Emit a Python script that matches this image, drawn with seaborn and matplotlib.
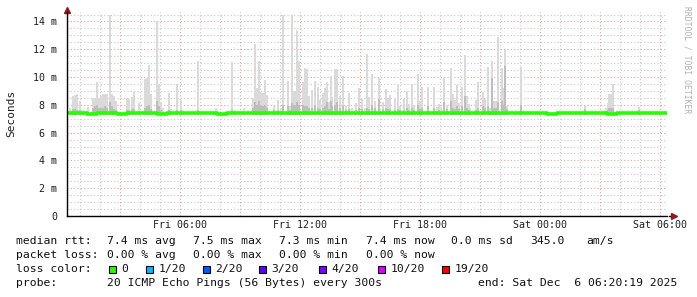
import numpy as np
import pandas as pd
import matplotlib
matplotlib.use("Agg")
import matplotlib.pyplot as plt
from matplotlib.patches import Rectangle
import seaborn as sns

# ---------------- data ----------------
# time axis in hours since Fri 00:00; chart spans Fri 00:20 -> Sat 06:20
t_start, t_end = 1/3, 30 + 1/3

# median rtt (ms), one value per 30 minutes starting Fri 00:20
median_ms = [7.38, 7.40, 7.37, 7.41, 7.39, 7.36, 7.40, 7.42, 7.38, 7.37,
             7.40, 7.39, 7.41, 7.38, 7.40, 7.37, 7.39, 7.42, 7.40, 7.38,
             7.41, 7.39, 7.43, 7.40, 7.42, 7.44, 7.41, 7.43, 7.40, 7.42,
             7.44, 7.43, 7.41, 7.42, 7.40, 7.43, 7.41, 7.40, 7.42, 7.39,
             7.41, 7.40, 7.38, 7.41, 7.39, 7.40, 7.38, 7.40, 7.37, 7.39,
             7.41, 7.38, 7.40, 7.39, 7.37, 7.40, 7.38, 7.41, 7.39, 7.40, 7.40]

# smoke (ping spread) per 5-min sample: time (h), max ping (ms), inner ping (ms)
smoke_hour = [0.50, 0.65, 0.75, 0.85, 1.00, 1.15, 1.40, 1.65, 1.75, 1.85,
              1.95, 2.05, 2.15, 2.25, 2.35, 2.50, 2.60, 2.70, 2.80, 3.35,
              3.45, 3.60, 3.70, 3.95, 4.25, 4.35, 4.45, 4.55, 4.85, 4.95,
              5.05, 5.15, 5.45, 5.55, 5.85, 6.05, 6.15, 6.90, 7.80, 8.60,
              8.75, 9.20, 9.65, 9.75, 9.85, 9.95, 10.05, 10.15, 10.25, 10.35,
              10.70, 10.90, 11.05, 11.15, 11.40, 11.50, 11.60, 11.70, 11.75, 11.85,
              11.95, 12.15, 12.25, 12.35, 12.45, 12.60, 12.75, 12.90, 13.00, 13.15,
              13.25, 13.35, 13.45, 13.55, 13.60, 13.75, 13.85, 14.00, 14.15, 14.30,
              14.45, 14.60, 14.80, 14.95, 15.10, 15.25, 15.35, 15.45, 15.60, 15.75,
              15.95, 16.15, 16.30, 16.40, 16.50, 16.75, 16.90, 17.00, 17.20, 17.35,
              17.45, 17.60, 17.70, 17.90, 18.00, 18.10, 18.40, 18.70, 18.85, 18.95,
              19.05, 19.20, 19.35, 19.55, 19.65, 19.75, 19.85, 19.95, 20.10, 20.25,
              20.35, 20.45, 20.50, 20.80, 20.90, 21.15, 21.25, 21.40, 21.50, 21.60,
              21.70, 21.80, 21.90, 22.10, 22.20, 22.25, 22.35, 23.05, 26.25, 27.20,
              27.30, 27.40, 27.45, 27.55, 27.65, 28.95]
smoke_max = [7.75, 8.60, 8.70, 8.75, 8.25, 7.65, 7.85, 8.50, 8.50, 9.65,
             8.50, 8.60, 8.80, 8.80, 8.80, 14.50, 8.80, 8.60, 8.30, 8.50,
             8.40, 8.55, 8.95, 8.15, 9.85, 9.95, 10.90, 8.80, 14.05, 9.50,
             8.20, 7.80, 8.85, 7.70, 9.50, 8.35, 7.60, 11.15, 7.75, 11.10,
             7.60, 7.75, 8.50, 12.40, 9.20, 11.15, 8.85, 8.85, 9.80, 8.70,
             7.95, 8.35, 7.80, 14.50, 9.70, 7.90, 14.50, 9.00, 9.00, 13.35,
             11.15, 9.65, 10.65, 10.55, 8.65, 9.10, 9.75, 9.30, 8.35, 8.85,
             9.20, 9.65, 8.20, 10.05, 8.55, 10.55, 10.55, 8.65, 10.05, 7.90,
             8.85, 7.80, 8.15, 9.20, 8.40, 7.80, 11.65, 8.55, 10.25, 8.30,
             9.90, 8.20, 9.15, 8.50, 8.70, 8.50, 9.40, 7.90, 8.40, 9.00,
             8.05, 9.50, 8.00, 10.20, 8.30, 9.30, 9.30, 9.30, 7.85, 8.05,
             7.85, 10.00, 8.00, 10.65, 8.75, 8.35, 9.40, 8.15, 9.25, 11.55,
             8.65, 8.05, 7.75, 8.35, 9.65, 8.90, 8.45, 10.75, 7.75, 11.15,
             8.30, 8.30, 12.85, 10.65, 9.20, 11.95, 7.95, 10.75, 7.95, 7.55,
             7.75, 8.10, 8.75, 8.75, 9.50, 7.85, 7.95][:len(smoke_hour)]
smoke_mid = [7.50, 7.70, 7.70, 7.60, 7.60, 7.50, 7.50, 7.80, 7.90, 8.00,
             7.80, 7.80, 7.80, 7.90, 7.80, 8.20, 7.90, 7.70, 7.60, 7.60,
             7.60, 7.70, 7.70, 7.50, 7.80, 7.90, 8.00, 7.70, 8.30, 7.90,
             7.60, 7.50, 7.60, 7.50, 7.60, 7.60, 7.50, 7.60, 7.50, 7.60,
             7.50, 7.50, 7.80, 8.20, 8.00, 8.30, 8.00, 7.90, 8.00, 7.80,
             7.60, 7.60, 7.50, 8.00, 7.90, 7.60, 8.10, 8.00, 8.00, 8.20,
             8.00, 8.00, 7.90, 7.90, 7.80, 7.80, 8.00, 7.80, 7.70, 7.80,
             7.90, 8.20, 7.70, 8.30, 7.90, 8.00, 8.20, 7.80, 7.90, 7.60,
             7.70, 7.50, 7.60, 7.80, 7.70, 7.50, 7.80, 7.70, 8.00, 7.80,
             8.40, 7.70, 7.80, 7.70, 7.70, 7.60, 7.70, 7.60, 7.60, 7.80,
             7.60, 7.80, 7.60, 8.00, 7.70, 7.80, 7.90, 7.80, 7.50, 7.60,
             7.50, 8.20, 7.70, 8.30, 7.80, 7.70, 7.90, 7.70, 7.90, 8.60,
             7.80, 7.60, 7.50, 7.60, 7.80, 7.90, 7.80, 7.90, 7.50, 9.90,
             7.80, 7.80, 8.20, 8.30, 8.00, 10.80, 7.70, 8.00, 7.70, 7.45,
             7.50, 7.60, 7.80, 7.80, 7.80, 7.60, 7.60][:len(smoke_hour)]

x_tick_hours = [6, 12, 18, 24, 30]
x_tick_labels = ["Fri 06:00", "Fri 12:00", "Fri 18:00", "Sat 00:00", "Sat 06:00"]
y_tick_values = [0, 2, 4, 6, 8, 10, 12, 14]
y_tick_labels = ["0", "2 m", "4 m", "6 m", "8 m", "10 m", "12 m", "14 m"]

loss_labels = ["0", "1/20", "2/20", "3/20", "4/20", "10/20", "19/20"]
loss_colors = ["#26ff00", "#00b8ff", "#0059ff", "#5e00ff", "#7e00ff", "#dd00ff", "#ff0000"]

# ---------------- style ----------------
sns.set_theme(style="white")
plt.rcParams["font.family"] = ["DejaVu Sans Mono"]
W, H = 697, 297
fig = plt.figure(figsize=(W / 100, H / 100), dpi=100)
fig.patch.set_facecolor("white")

def fx(px):
    return px / W

def fy(py):
    return 1 - py / H

ax = fig.add_axes([fx(66.7), fy(216), fx(600), (216 - 12) / H])
ax.set_facecolor("white")
ax.set_xlim(t_start, t_end)
ax.set_ylim(0, 14.68)

# grid
ax.set_xticks(np.arange(3, 31, 3))
ax.set_xticks(np.arange(1, 31, 1), minor=True)
ax.set_yticks(y_tick_values)
ax.set_yticks(np.arange(0.5, 14.7, 0.5), minor=True)
ax.grid(which="minor", color="#c8c8c8", linestyle=(0, (1, 2)), linewidth=0.8)
ax.grid(which="major", color="#e3a3a3", linestyle=(0, (1, 2)), linewidth=0.8)
ax.set_axisbelow(True)
xlabels = [x_tick_labels[x_tick_hours.index(h)] if h in x_tick_hours else ""
           for h in range(3, 31, 3)]
ax.set_xticklabels(xlabels, fontsize=7.2, color="#202020")
ax.set_yticklabels(y_tick_labels, fontsize=7.2, color="#202020")
ax.tick_params(which="both", length=0)
ax.tick_params(axis="x", pad=3)
ax.tick_params(axis="y", pad=7)

# smoke
bw = 1 / 14
base = 7.3
ax.bar(smoke_hour, np.array(smoke_max) - base, bottom=base, width=bw,
       color="#dadada", linewidth=0, zorder=2)
ax.bar(smoke_hour, np.array(smoke_mid) - base, bottom=base, width=bw,
       color="#bdbdbd", linewidth=0, zorder=2)

# median line
med_df = pd.DataFrame({"hour": t_start + 0.5 * np.arange(len(median_ms)),
                       "rtt": median_ms})
sns.lineplot(data=med_df, x="hour", y="rtt", ax=ax, color="#26ff00",
             linewidth=2.6, drawstyle="steps-post", zorder=3)
ax.set_xlabel("")
ax.set_ylabel("")

for s in ["top", "right"]:
    ax.spines[s].set_visible(False)
for s in ["left", "bottom"]:
    ax.spines[s].set_color("black")
    ax.spines[s].set_linewidth(1.0)
    ax.spines[s].set_zorder(4)

# axis arrows
ax.plot([1.004, 1.012], [0, 0], transform=ax.transAxes, color="black",
        lw=1.0, clip_on=False)
ax.plot([1.012], [0], marker=">", markersize=4, color="#8b1a1a",
        transform=ax.transAxes, clip_on=False)
ax.plot([0], [1.012], marker="^", markersize=4, color="#8b1a1a",
        transform=ax.transAxes, clip_on=False)

fig.text(fx(11), fy(113), "Seconds", rotation=90, ha="center", va="center",
         fontsize=8, color="#202020")
fig.text(fx(687), fy(60), "RRDTOOL / TOBI OETIKER", rotation=270,
         ha="center", va="center", fontsize=5.8, color="#b0b0b0")

# ---------------- legend text ----------------
fs = 8.2
tc = "#101010"
def t(px, py, s):
    fig.text(fx(px), fy(py), s, ha="left", va="center", fontsize=fs, color=tc)

row1 = 241
t(16, row1, "median rtt:")
t(107, row1, "7.4 ms avg")
t(193, row1, "7.5 ms max")
t(279, row1, "7.3 ms min")
t(366, row1, "7.4 ms now")
t(451, row1, "0.0 ms sd")
t(530, row1, "345.0")
t(586, row1, "am/s")

row2 = 255
t(16, row2, "packet loss:")
t(107, row2, "0.00 % avg")
t(193, row2, "0.00 % max")
t(279, row2, "0.00 % min")
t(366, row2, "0.00 % now")

row3 = 269
t(16, row3, "loss color:")
sq_x = [109, 146, 203, 259, 319, 378, 442]
for px, lab, col in zip(sq_x, loss_labels, loss_colors):
    fig.add_artist(Rectangle((fx(px), fy(272.5)), 7 / W, 7 / H,
                             transform=fig.transFigure, facecolor=col,
                             edgecolor="black", linewidth=0.8))
    t(px + 12.5, row3, lab)

row4 = 283
t(16, row4, "probe:")
t(107, row4, "20 ICMP Echo Pings (56 Bytes) every 300s")
t(478, row4, "end: Sat Dec  6 06:20:19 2025")

fig.savefig("out.png", dpi=100, facecolor="white")
